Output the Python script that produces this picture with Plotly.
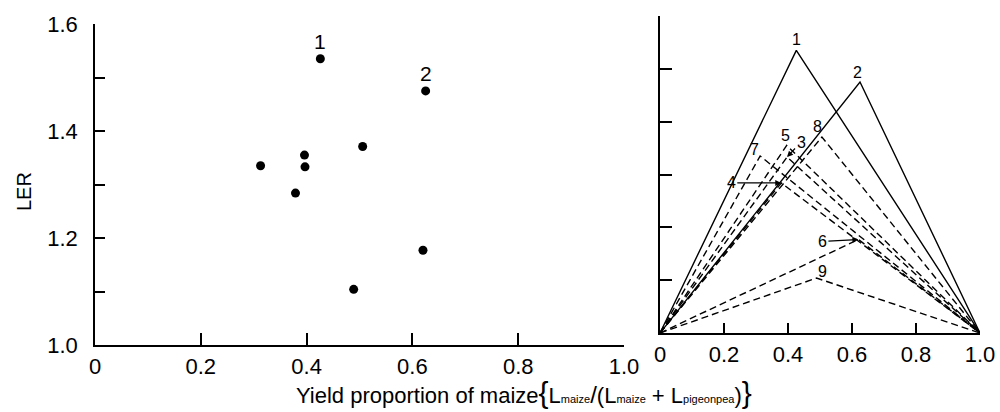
import plotly.graph_objects as go

# ---- data ----
labels = ["1", "2", "3", "4", "5", "6", "7", "8", "9"]
maize_prop = [0.426, 0.625, 0.397, 0.379, 0.396, 0.620, 0.313, 0.506, 0.489]
ler = [1.535, 1.475, 1.333, 1.284, 1.355, 1.177, 1.335, 1.371, 1.104]
line_dash = ["solid", "solid", "7px,4px", "7px,4px", "7px,4px", "7px,4px",
             "7px,4px", "7px,4px", "7px,4px"]

x_tickvals = [0, 0.2, 0.4, 0.6, 0.8, 1.0]
x_ticktext = ["0", "0.2", "0.4", "0.6", "0.8", "1.0"]
y_tickvals = [1.0, 1.1, 1.2, 1.3, 1.4, 1.5, 1.6]
y_ticktext = ["1.0", "", "1.2", "", "1.4", "", "1.6"]

FONT = "Liberation Sans, Arial, Helvetica, sans-serif"
W, H = 1000, 412

fig = go.Figure()

# left panel: scatter
fig.add_trace(go.Scatter(
    x=maize_prop, y=ler, mode="markers",
    marker=dict(size=9, color="black"),
    xaxis="x", yaxis="y", showlegend=False, hoverinfo="skip"))

# right panel: triangles (0,1) -> (p, LER) -> (1,1)
for lab, p, v, d in zip(labels, maize_prop, ler, line_dash):
    fig.add_trace(go.Scatter(
        x=[0, p, 1], y=[1.0, v, 1.0], mode="lines",
        line=dict(color="black", width=1.4, dash=d),
        xaxis="x2", yaxis="y2", showlegend=False, hoverinfo="skip"))

axis_common = dict(showgrid=False, zeroline=False, showline=True,
                   linecolor="black", linewidth=1.6, ticks="inside",
                   tickcolor="black", tickwidth=1.5, automargin=False,
                   tickfont=dict(family=FONT, size=22, color="black"))

fig.update_layout(
    width=W, height=H,
    margin=dict(l=0, r=0, t=0, b=0, pad=0),
    paper_bgcolor="white", plot_bgcolor="white",
    xaxis=dict(domain=[0.095, 0.624], range=[0, 1.0], tickvals=x_tickvals,
               ticktext=x_ticktext, ticklen=12, anchor="y",
               ticklabelstandoff=1, **axis_common),
    yaxis=dict(domain=[1 - 345 / H, 1 - 24 / H], range=[1.0, 1.6],
               tickvals=y_tickvals, ticktext=y_ticktext, ticklen=10,
               anchor="x", ticklabelstandoff=11, **axis_common),
    xaxis2=dict(domain=[0.660, 0.980], range=[0, 1.0], tickvals=x_tickvals,
                ticktext=x_ticktext, ticklen=10, anchor="y2",
                ticklabelstandoff=1, **axis_common),
    yaxis2=dict(domain=[1 - 333 / H, 1 - 16 / H], range=[1.0, 1.6],
                tickvals=y_tickvals, ticklen=12, showticklabels=False,
                anchor="x2", **axis_common),
)

# left panel labels (only 1 and 2)
for i in (0, 1):
    fig.add_annotation(x=maize_prop[i], y=ler[i], xref="x", yref="y",
                       text=labels[i], showarrow=False, yshift=17,
                       font=dict(family=FONT, size=21, color="black"))

# right panel labels
small = dict(family=FONT, size=16, color="black")
shifts = {  # label: (xshift, yshift) from apex
    "1": (0, 11), "2": (-3, 10), "5": (-1, 10), "7": (-6, 7),
    "8": (-4, 10), "9": (6, 7),
}
arrows = {  # label: (ax, ay) pixel offsets of text from apex
    "3": (14, -15), "4": (-50, 0), "6": (-36, 2),
}
for lab, p, v in zip(labels, maize_prop, ler):
    if lab in shifts:
        xs, ys = shifts[lab]
        fig.add_annotation(x=p, y=v, xref="x2", yref="y2", text=lab,
                           showarrow=False, xshift=xs, yshift=ys, font=small)
    elif lab in arrows:
        ax, ay = arrows[lab]
        fig.add_annotation(x=p, y=v, xref="x2", yref="y2", text=lab,
                           showarrow=True, ax=ax, ay=ay, arrowhead=2,
                           arrowsize=1, arrowwidth=1.2, arrowcolor="black",
                           standoff=0, font=small)

# axis titles
fig.add_annotation(x=24 / W, y=1 - 192 / H, xref="paper", yref="paper",
                   text="LER", textangle=-90, showarrow=False,
                   xanchor="center", yanchor="middle",
                   font=dict(family=FONT, size=20, color="black"))

title = ("Yield proportion of maize"
         "<span style='font-size:30px'>{</span>"
         "L<span style='font-size:11px'>maize</span>"
         "<span style='font-size:24px'>/</span>"
         "(L<span style='font-size:11px'>maize</span> + "
         "L<span style='font-size:11px'>pigeonpea</span>)"
         "<span style='font-size:30px'>}</span>")
fig.add_annotation(x=524 / W, y=1 - 392 / H, xref="paper", yref="paper",
                   text=title, showarrow=False, xanchor="center",
                   yanchor="middle",
                   font=dict(family=FONT, size=22, color="black"))

fig.write_html("out.html")
